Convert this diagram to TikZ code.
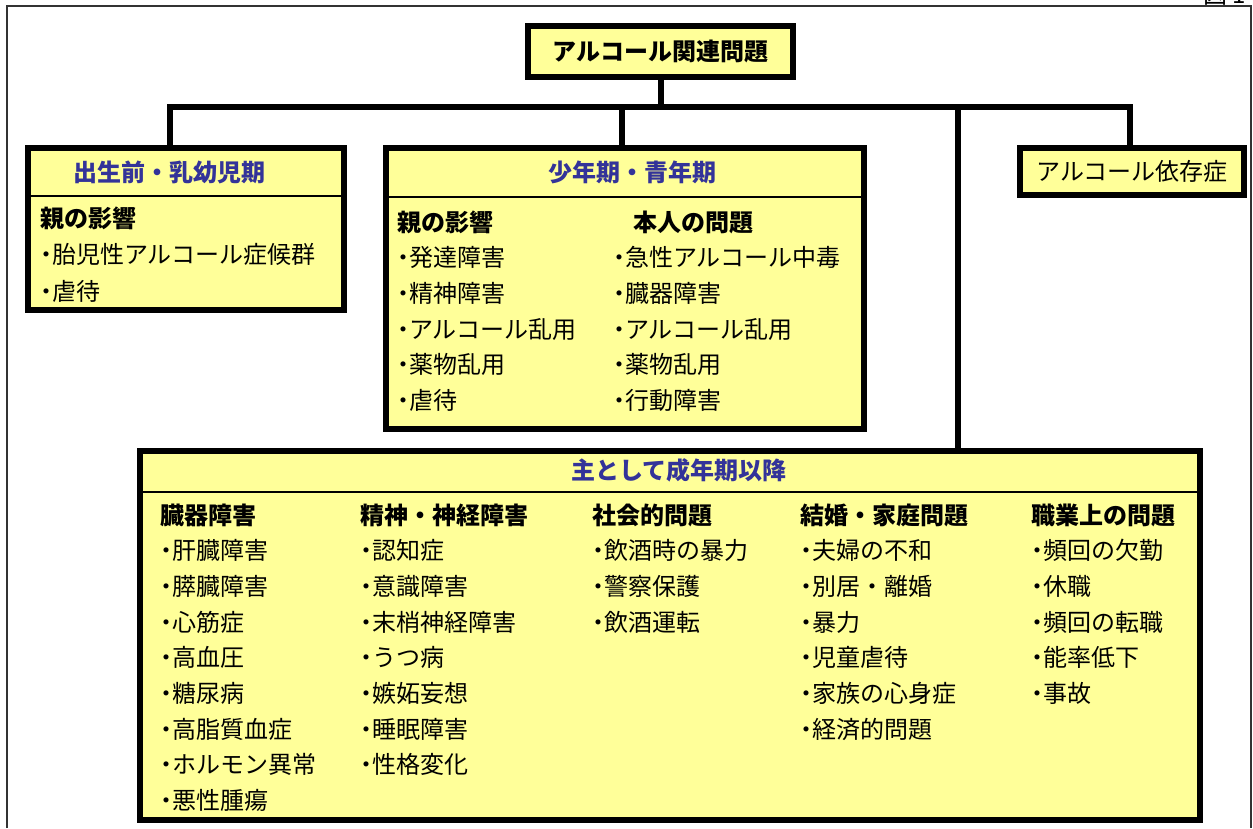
\documentclass[tikz,border=0pt]{standalone}
\usepackage{fontspec}
\setmainfont{Noto Sans CJK JP}
\definecolor{boxfill}{RGB}{255,255,153}
\definecolor{headblue}{RGB}{51,51,153}
\newcommand{\dotmark}{\makebox[12pt]{・}}

\begin{document}
\begin{tikzpicture}[
		x=1pt,y=-1pt,
		box/.style={draw,line width=6pt,fill=boxfill,inner sep=0pt,outer sep=0pt,anchor=north west,font=\fontsize{24}{28}\selectfont},
		conn/.style={line width=6pt},
		sep/.style={line width=1.5pt},
		head/.style={inner sep=0pt,text=headblue,font=\fontsize{24}{28}\selectfont\bfseries},
		col/.style={align=left,anchor=base west,inner sep=0pt,font=\fontsize{24}{35.7}\selectfont}
		]
		\useasboundingbox (0,0) rectangle (1253,828);
		\draw[line width=1.5pt,black!80] (7,828) -- (7,6) -- (1251,6) -- (1251,828);
		\node[anchor=base east,inner sep=0pt,font=\fontsize{24}{28}\selectfont] (fignum) at (1246,3) {図 1};
		
		\node[box,minimum width=265pt,minimum height=51pt] (title) at (528,26) {\bfseries アルコール関連問題};
		\node[box,minimum width=316pt,minimum height=162pt] (prenatal) at (28,148) {};
		\node[box,minimum width=478pt,minimum height=281pt] (youth) at (386,148) {};
		\node[box,minimum width=224pt,minimum height=47pt] (depend) at (1020,148) {アルコール依存症};
		\node[box,minimum width=1060pt,minimum height=369pt] (adult) at (140,451) {};
		
		\coordinate (busL) at (170,107);
		\coordinate (busY) at (622,107);
		\coordinate (busA) at (958,107);
		\coordinate (busR) at (1130,107);
		\draw[conn] (title.south) -- (title.south |- busL);
		\draw[conn] (busL |- prenatal.north) -- (busL) -- (busR) -- (busR |- depend.north);
		\draw[conn] (busY) -- (busY |- youth.north);
		\draw[conn] (busA) -- (busA |- adult.north);
		
		\draw[sep] (prenatal.west |- 0,196) -- (prenatal.east |- 0,196);
		\draw[sep] (youth.west |- 0,197) -- (youth.east |- 0,197);
		\draw[sep] (adult.west |- 0,492) -- (adult.east |- 0,492);
		
		\node[head] (prenatalhead) at (169,172) {出生前・乳幼児期};
		\node[head] (youthhead) at (632,172) {少年期・青年期};
		\node[head] (adulthead) at (679,470) {主として成年期以降};
		
		\node[col,font=\fontsize{24}{36.5}\selectfont] (prenatalparent) at (40,300) {\textbf{親の影響}\\\dotmark 胎児性アルコール症候群\\\dotmark 虐待};
		
		\node[col] (youthparent) at (397,409.5) {\textbf{親の影響}\\\dotmark 発達障害\\\dotmark 精神障害\\\dotmark アルコール乱用\\\dotmark 薬物乱用\\\dotmark 虐待};
		\node[col] (youthself) at (613,409.5) {\hspace*{20pt}\textbf{本人の問題}\\\dotmark 急性アルコール中毒\\\dotmark 臓器障害\\\dotmark アルコール乱用\\\dotmark 薬物乱用\\\dotmark 行動障害};
		
		\node[col] (organ) at (160,809.6) {\textbf{臓器障害}\\\dotmark 肝臓障害\\\dotmark 膵臓障害\\\dotmark 心筋症\\\dotmark 高血圧\\\dotmark 糖尿病\\\dotmark 高脂質血症\\\dotmark ホルモン異常\\\dotmark 悪性腫瘍};
		\node[col] (mental) at (360,773.9) {\textbf{精神・神経障害}\\\dotmark 認知症\\\dotmark 意識障害\\\dotmark 末梢神経障害\\\dotmark うつ病\\\dotmark 嫉妬妄想\\\dotmark 睡眠障害\\\dotmark 性格変化};
		\node[col] (social) at (592,631.1) {\textbf{社会的問題}\\\dotmark 飲酒時の暴力\\\dotmark 警察保護\\\dotmark 飲酒運転};
		\node[col] (family) at (800,738.2) {\textbf{結婚・家庭問題}\\\dotmark 夫婦の不和\\\dotmark 別居・離婚\\\dotmark 暴力\\\dotmark 児童虐待\\\dotmark 家族の心身症\\\dotmark 経済的問題};
		\node[col] (work) at (1031,702.5) {\textbf{職業上の問題}\\\dotmark 頻回の欠勤\\\dotmark 休職\\\dotmark 頻回の転職\\\dotmark 能率低下\\\dotmark 事故};
		
		\end{tikzpicture}
\end{document}
